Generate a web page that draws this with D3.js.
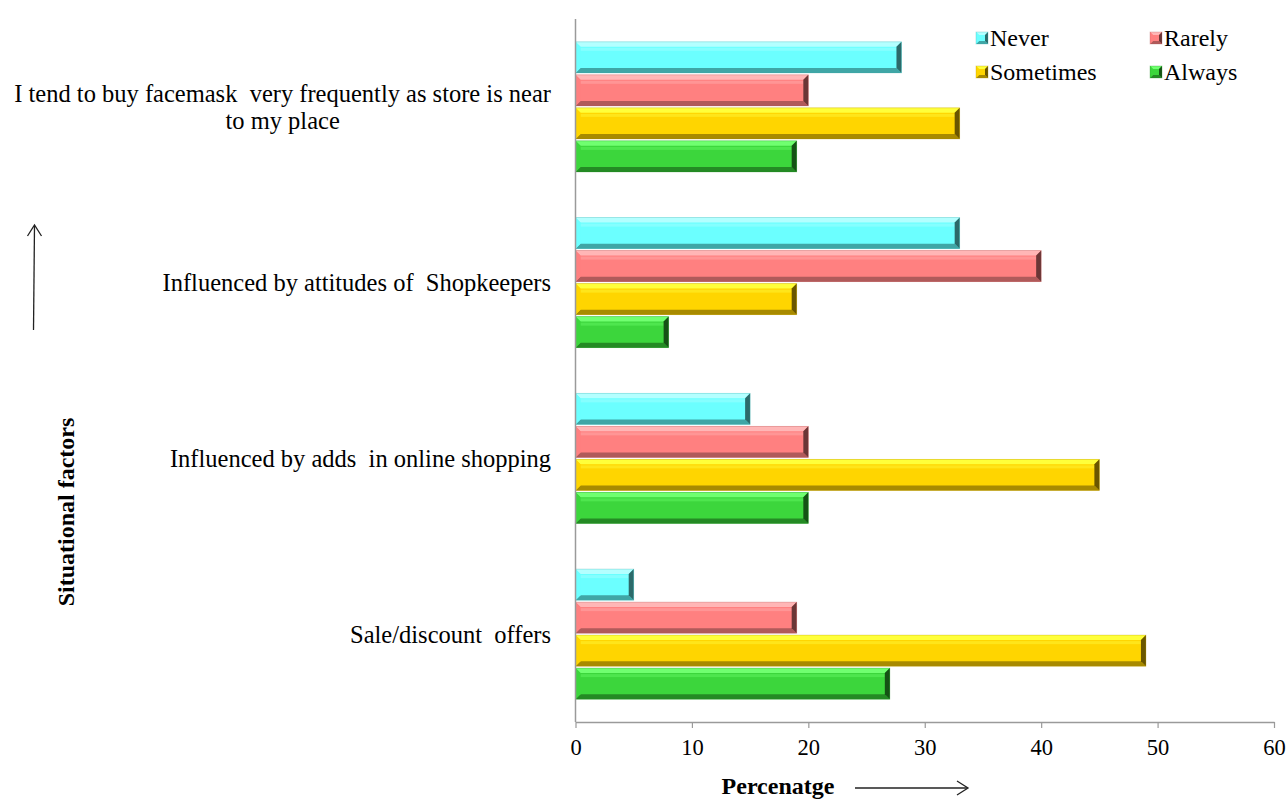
<!DOCTYPE html>
<html>
<head>
<meta charset="utf-8">
<script src="https://cdn.jsdelivr.net/npm/d3@7"></script>
<style>
  html, body { margin: 0; padding: 0; background: #fff; }
  svg text { font-family: "Liberation Serif", "Times New Roman", serif; fill: #000; white-space: pre; }
</style>
</head>
<body>
<svg id="chart" width="1288" height="803" xmlns="http://www.w3.org/2000/svg"></svg>
<script>
// Situational factors (top to bottom as drawn) — each label may wrap onto several lines
const categories = [
  ["I tend to buy facemask  very frequently as store is near", "to my place"],
  ["Influenced by attitudes of  Shopkeepers"],
  ["Influenced by adds  in online shopping"],
  ["Sale/discount  offers"]
];
const seriesNames = ["Never", "Rarely", "Sometimes", "Always"];
const neverValues     = [28, 33, 15, 5];
const rarelyValues    = [20, 40, 20, 19];
const sometimesValues = [33, 19, 45, 49];
const alwaysValues    = [19, 8, 20, 27];
const xTicks = [0, 10, 20, 30, 40, 50, 60];

const seriesValues = [neverValues, rarelyValues, sometimesValues, alwaysValues];

// bevelled-bar palette: face, top highlight, bottom shade, end cap
const palette = {
  Never:     { face: "#6BFFFF", hi: "#B4FFFF", lo: "#3FA6A6", cap: "#2C6A6A", mid: "#8CFFFF" },
  Rarely:    { face: "#FF8080", hi: "#FFB6B6", lo: "#B05A5A", cap: "#6A3636", mid: "#FF9A9A" },
  Sometimes: { face: "#FFD500", hi: "#FFFF3A", lo: "#A88A00", cap: "#6A5600", mid: "#FFE820" },
  Always:    { face: "#3CD63C", hi: "#70FF70", lo: "#248A24", cap: "#155215", mid: "#52EA52" }
};

const labelFont = "24.5px";
const svg = d3.select("#chart");
const plot = { left: 575.5, right: 1274, top: 19, bottom: 722 };

const x = d3.scaleLinear().domain([0, 60]).range([plot.left, plot.right]);
const y = d3.scaleBand().domain(d3.range(categories.length))
  .range([plot.top, plot.bottom]).paddingInner(0.26).paddingOuter(0.13);
const ySub = d3.scaleBand().domain(seriesNames)
  .range([0, y.bandwidth()]).paddingInner(0.06);

// bars, drawn as bevelled slabs
const bevel = 5;
function drawBar(g, x0, x1, y0, h, c, bv0) {
  const w = x1 - x0;
  const b = Math.min(bv0 || bevel, w / 2);
  const bv = Math.min(bv0 || bevel, h / 2);
  g.append("rect").attr("x", x0).attr("y", y0).attr("width", w).attr("height", h).attr("fill", c.face);
  // top facet
  g.append("polygon").attr("fill", c.hi)
    .attr("points", [[x0, y0], [x1, y0], [x1 - b, y0 + bv], [x0 + b, y0 + bv]].join(" "));
  // soft gloss band on the face
  if (h > 15) {
    g.append("rect").attr("x", x0 + b).attr("y", y0 + bv + 1).attr("width", Math.max(0, w - 2 * b)).attr("height", 3)
      .attr("fill", c.mid).attr("opacity", 0.8);
  }
  // bottom facet
  g.append("polygon").attr("fill", c.lo)
    .attr("points", [[x0, y0 + h], [x1, y0 + h], [x1 - b, y0 + h - bv], [x0 + b, y0 + h - bv]].join(" "));
  // left facet
  g.append("polygon").attr("fill", c.face).attr("opacity", 0.9)
    .attr("points", [[x0, y0], [x0 + b, y0 + bv], [x0 + b, y0 + h - bv], [x0, y0 + h]].join(" "));
  // right end facet
  g.append("polygon").attr("fill", c.cap)
    .attr("points", [[x1, y0], [x1, y0 + h], [x1 - b, y0 + h - bv], [x1 - b, y0 + bv]].join(" "));
  g.append("rect").attr("x", x0).attr("y", y0).attr("width", w).attr("height", h)
    .attr("fill", "none").attr("stroke", c.lo).attr("stroke-opacity", 0.35).attr("stroke-width", 0.8);
}

const barsLayer = svg.append("g");
categories.forEach((cat, ci) => {
  seriesNames.forEach((s, si) => {
    const v = seriesValues[si][ci];
    drawBar(barsLayer.append("g"), x(0), x(v), y(ci) + ySub(s), ySub.bandwidth(), palette[s]);
  });
});

// axes
const xAxis = d3.axisBottom(x).tickValues(xTicks).tickSize(6).tickSizeOuter(0).tickPadding(11);
const gx = svg.append("g").attr("transform", `translate(0,${plot.bottom})`).call(xAxis);
gx.select(".domain").attr("stroke", "#9a9a9a").attr("stroke-width", 1.5);
gx.selectAll(".tick line").attr("stroke", "#9a9a9a").attr("stroke-width", 1.2);
gx.selectAll(".tick text").style("font-family", "\"Liberation Serif\", \"Times New Roman\", serif")
  .style("font-size", "22.5px").attr("fill", "#000");

svg.append("line").attr("x1", plot.left).attr("x2", plot.left)
  .attr("y1", plot.top).attr("y2", plot.bottom)
  .attr("stroke", "#9a9a9a").attr("stroke-width", 1.5);

// category labels, right-aligned; wrapped lines centred on each other
const labelRight = 551;
const labelLayer = svg.append("g");
categories.forEach((lines, ci) => {
  const cy = y(ci) + y.bandwidth() / 2;
  const lh = 27;
  const wMax = d3.max(lines, l => {
    const probe = labelLayer.append("text").style("font-size", labelFont).text(l);
    const w = probe.node().getComputedTextLength();
    probe.remove();
    return w;
  });
  const cx = labelRight - wMax / 2;
  const t = labelLayer.append("text").style("font-size", labelFont).attr("text-anchor", "middle");
  lines.forEach((l, i) => {
    t.append("tspan").attr("x", cx)
      .attr("y", cy + (i - (lines.length - 1) / 2) * lh)
      .attr("dy", "0.35em").text(l);
  });
});

// legend
const legendItems = [
  { name: "Never", lx: 976, ly: 38 },
  { name: "Rarely", lx: 1150, ly: 38 },
  { name: "Sometimes", lx: 976, ly: 72 },
  { name: "Always", lx: 1150, ly: 72 }
];
const legend = svg.append("g");
legendItems.forEach(it => {
  const c = palette[it.name];
  drawBar(legend.append("g"), it.lx, it.lx + 12, it.ly - 6, 12, c, 3);
  legend.append("text").attr("x", it.lx + 14).attr("y", it.ly).attr("dy", "0.35em")
    .style("font-size", "24px").text(it.name);
});

// axis titles with direction arrows
const arrowStroke = "#222";
svg.append("text").attr("x", 778).attr("y", 794).attr("text-anchor", "middle")
  .style("font-size", "24px").style("font-weight", "bold").text("Percenatge");
svg.append("line").attr("x1", 855).attr("x2", 967).attr("y1", 788).attr("y2", 788)
  .attr("stroke", arrowStroke).attr("stroke-width", 1.3);
svg.append("polyline").attr("points", "957,781 968,788 957,795")
  .attr("fill", "none").attr("stroke", arrowStroke).attr("stroke-width", 1.3);

svg.append("text").attr("transform", "translate(74,512) rotate(-90)").attr("text-anchor", "middle")
  .style("font-size", "24px").style("font-weight", "bold").text("Situational factors");
svg.append("line").attr("x1", 33.5).attr("x2", 34.5).attr("y1", 330).attr("y2", 226)
  .attr("stroke", arrowStroke).attr("stroke-width", 1.3);
svg.append("polyline").attr("points", "27.5,236 34.5,225 41.5,236")
  .attr("fill", "none").attr("stroke", arrowStroke).attr("stroke-width", 1.3);
</script>
</body>
</html>
